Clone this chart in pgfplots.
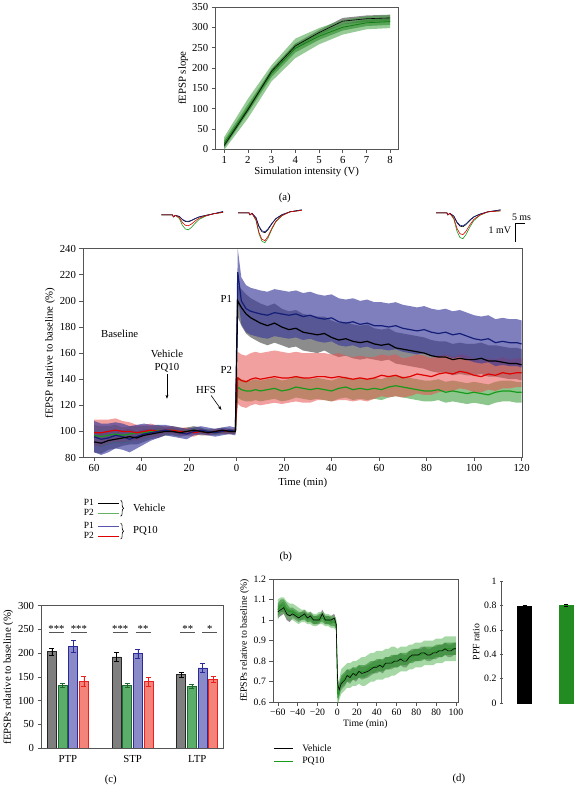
\documentclass[border=0pt]{standalone}
\usepackage{fontspec}
\setmainfont{Liberation Serif}
\usepackage{pgfplots}
\pgfplotsset{compat=1.18}
\usepackage{pgfplotstable}
\usepgfplotslibrary{fillbetween}
\usetikzlibrary{arrows.meta,decorations.pathreplacing}

\definecolor{axgray}{HTML}{555555}
\definecolor{bline}{HTML}{141E78}
\definecolor{bband}{HTML}{3A3A9A}
\definecolor{kband}{HTML}{404040}
\definecolor{rline}{HTML}{E00000}
\definecolor{rband}{HTML}{E85050}
\definecolor{gline}{HTML}{1A9A1A}
\definecolor{gband}{HTML}{40A040}
\definecolor{gdark}{HTML}{2E8B2E}
\definecolor{glight}{HTML}{5CB85C}
\definecolor{cgray}{HTML}{7F7F7F}
\definecolor{cgreen}{HTML}{5AAE6A}
\definecolor{cgreenE}{HTML}{1F6B2F}
\definecolor{cblue}{HTML}{8A8AC8}
\definecolor{cblueE}{HTML}{2A2A9A}
\definecolor{cred}{HTML}{F4847A}
\definecolor{credE}{HTML}{E82020}
\definecolor{ppfgreen}{HTML}{228B22}

% Panel (a)
\pgfplotstableread{
x k ke g ge1 ge2
1 9 6 14 8 16
2 97 6 100 10 24
3 192 6 187 9 20
4 254 6 248 10 24
5 287 6 278 9 20
6 315 8 300 8 18
7 321 8 311 8 16
8 323 8 314 8 16
}\dataA

% Panel (b): x, black(P1 veh), green(P2 veh), blue(P1 PQ10), red(P2 PQ10)
\pgfplotstableread{
x k ke g ge b be r re
-60 92 8 97 8 96 12 99 10
-57 91 8 96 8 94 12 99 10
-54 93 7 97 7 95 11 100 9
-51 94 7 98 7 97 10 101 9
-48 95 6 97 6 96 10 100 8
-45 96 6 98 6 94 10 100 7
-42 95 5 99 5 96 9 99 6
-39 97 5 99 5 98 8 100 5
-36 98 4 100 4 99 6 101 5
-33 99 4 101 4 100 5 100 4
-30 100 3 100 3 101 4 101 3
-27 100 3 101 3 100 4 101 3
-24 99 3 100 3 99 4 100 3
-21 100 3 100 2 98 4 100 3
-18 101 3 101 2 100 3 99 3
-15 100 3 100 2 101 3 100 2
-12 99 2 100 2 100 3 99 2
-9 100 2 99 2 99 3 100 2
-6 101 2 100 2 100 3 100 2
-3 100 2 100 2 101 3 100 2
-0.5 100 2 100 2 100 3 100 2
0.5 200 12 134 8 222 18 141 20
2 195 14 132 8 200 18 139 20
4 190 15 131 8 194 18 138 20
6 187 15 131 8 192 18 140 20
8 185 15 132 8 191 18 141 20
10 183 15 131 8 190 18 140 20
13 181 15 132 8 189 18 141 20
16 183 15 133 8 191 18 142 20
19 180 14 131 8 190 18 141 20
22 178 14 132 8 189 18 141 19
25 179 14 134 8 190 18 142 19
28 176 14 133 8 188 18 141 19
31 175 14 132 8 189 18 141 19
34 174 14 133 8 187 18 142 18
37 175 13 132 8 186 18 142 18
40 172 13 131 8 187 18 141 18
43 170 13 133 8 184 18 142 18
46 171 13 134 8 183 18 141 17
49 169 13 132 8 184 18 140 17
52 168 13 133 8 182 18 141 17
55 169 13 132 8 183 18 140 17
58 167 12 133 8 181 18 141 16
61 166 12 132 8 181 18 143 16
64 167 12 134 8 180 18 142 16
67 164 12 135 8 181 18 143 16
70 163 12 134 8 179 18 141 15
73 162 12 133 8 178 18 142 15
76 161 12 132 8 177 18 144 15
79 160 12 131 8 178 18 143 15
82 158 12 131 8 176 18 142 14
85 157 12 132 8 175 18 144 14
88 157 12 130 8 176 18 145 14
91 155 12 131 8 174 18 144 13
94 156 12 130 8 175 18 146 13
97 155 12 129 8 173 18 145 13
100 155 12 130 8 171 18 143 13
103 156 12 129 8 170 18 142 12
106 154 12 128 8 171 18 144 12
109 154 12 130 8 168 18 143 12
112 153 12 131 8 169 18 145 12
115 152 12 131 8 168 18 144 11
118 152 12 130 8 168 18 145 11
120 151 12 130 8 167 18 145 11
}\dataB

% Panel (d)
\pgfplotstableread{
x k ke g ge1 ge2
-60 1.04 .03 1.05 .03 .05
-57 1.05 .03 1.07 .03 .04
-54 1.06 .03 1.07 .03 .04
-51 1.03 .03 1.05 .03 .04
-48 1.02 .03 1.04 .02 .04
-45 1.03 .02 1.04 .02 .04
-42 1.02 .02 1.03 .02 .04
-39 1.01 .02 1.02 .02 .04
-36 1.02 .02 1.02 .02 .03
-33 1.03 .02 1.02 .02 .03
-30 1.01 .02 1.01 .02 .03
-27 1.02 .02 1.01 .02 .03
-24 1.00 .02 1.00 .02 .03
-21 1.00 .02 1.00 .02 .03
-18 1.00 .02 1.01 .02 .03
-15 1.03 .02 1.01 .02 .03
-12 1.00 .02 1.00 .02 .03
-9 1.00 .02 1.00 .02 .03
-6 1.00 .02 0.99 .02 .03
-3 1.01 .02 0.99 .02 .03
-1 0.98 .02 0.98 .02 .03
0.5 0.69 .03 0.62 .03 .03
2 0.66 .03 0.66 .03 .05
4 0.69 .03 0.70 .03 .06
6 0.70 .03 0.71 .03 .06
8 0.71 .03 0.72 .03 .06
10 0.73 .03 0.73 .03 .06
13 0.72 .03 0.73 .03 .06
16 0.74 .03 0.74 .03 .06
19 0.73 .03 0.74 .03 .06
22 0.75 .03 0.75 .03 .06
25 0.74 .03 0.75 .03 .07
28 0.745 .03 0.75 .03 .07
31 0.75 .03 0.76 .03 .07
34 0.76 .03 0.77 .03 .07
37 0.77 .03 0.77 .03 .07
40 0.77 .03 0.78 .03 .07
43 0.78 .03 0.78 .03 .07
46 0.77 .03 0.78 .03 .07
49 0.79 .03 0.79 .03 .07
52 0.79 .03 0.79 .03 .07
55 0.79 .03 0.80 .03 .07
58 0.80 .03 0.80 .03 .07
61 0.80 .03 0.80 .03 .06
64 0.81 .03 0.81 .03 .06
67 0.80 .03 0.81 .03 .06
70 0.80 .03 0.81 .03 .06
73 0.82 .03 0.82 .03 .06
76 0.83 .03 0.82 .03 .06
79 0.83 .03 0.83 .03 .06
82 0.83 .03 0.83 .03 .06
85 0.84 .03 0.83 .03 .06
88 0.84 .03 0.84 .03 .06
91 0.83 .03 0.84 .03 .06
94 0.83 .03 0.84 .03 .06
97 0.84 .03 0.84 .03 .06
100 0.84 .03 0.85 .03 .06
103 0.85 .03 0.85 .03 .06
106 0.85 .03 0.85 .03 .06
109 0.86 .03 0.86 .03 .06
112 0.85 .03 0.86 .03 .06
115 0.85 .03 0.86 .03 .06
118 0.86 .03 0.86 .03 .06
120 0.86 .03 0.86 .03 .06
}\dataD

\pgfplotsset{
  every axis/.append style={
    scale only axis,
    anchor=north west,
    tick align=outside,
    tick pos=left,
    axis line style={axgray, line width=0.7pt},
    every tick/.style={axgray, line width=0.6pt},
    major tick length=3.5pt,
    /pgf/number format/assume math mode=true,
    tick label style={font=\fontsize{10.8}{12}\selectfont},
    label style={font=\fontsize{10.8}{12}\selectfont},
  },
}

\begin{document}
\begin{tikzpicture}[x=1pt,y=1pt,font=\fontsize{10.8}{12}\selectfont]

% ---------------- Panel (a)
\begin{axis}[at={(215pt,-4pt)}, width=184pt, height=143pt,
  xmin=0.62, xmax=8.34, ymin=0, ymax=350,
  xtick={1,...,8}, ytick={0,50,...,350},
  xlabel={Simulation intensity (V)}, ylabel={fEPSP slope},
  xlabel style={yshift=3pt}, ylabel style={yshift=-3pt}]
\addplot[name path=aKU, draw=none, forget plot] table[x=x, y expr=\thisrow{k}+\thisrow{ke}] {\dataA};
\addplot[name path=aKL, draw=none, forget plot] table[x=x, y expr=\thisrow{k}-\thisrow{ke}] {\dataA};
\addplot[kband, opacity=0.6, draw=none] fill between[of=aKU and aKL];
\addplot[name path=aG2U, draw=none, forget plot] table[x=x, y expr=\thisrow{g}+\thisrow{ge2}] {\dataA};
\addplot[name path=aG2L, draw=none, forget plot] table[x=x, y expr=\thisrow{g}-\thisrow{ge2}] {\dataA};
\addplot[gband, opacity=0.55, draw=none] fill between[of=aG2U and aG2L];
\addplot[name path=aG1U, draw=none, forget plot] table[x=x, y expr=\thisrow{g}+\thisrow{ge1}] {\dataA};
\addplot[name path=aG1L, draw=none, forget plot] table[x=x, y expr=\thisrow{g}-\thisrow{ge1}] {\dataA};
\addplot[gdark, opacity=0.6, draw=none] fill between[of=aG1U and aG1L];
\addplot[gline!80!black, line width=0.8pt] table[x=x, y=g] {\dataA};
\addplot[black, line width=0.6pt] table[x=x, y=k] {\dataA};
\end{axis}
\node at (285,-196) {(a)};

% ---------------- Traces above panel (b)
\begin{axis}[at={(150pt,-200pt)}, width=390pt, height=50pt,
  xmin=150, xmax=540, ymin=-250, ymax=-200, axis lines=none, clip=false]
% group 1
\addplot[gline, line width=0.6pt] coordinates {(161,-213)(172,-213)(173,-215)(175,-213.5)(179,-216.75)(182,-223.5)(185,-227.25)(188,-228)(191,-225.75)(195,-221.25)(199,-217.5)(205,-214.5)(213,-212)(223,-210.5)};
\addplot[black, line width=0.6pt] coordinates {(161,-213)(172,-213)(173,-215)(175,-213.5)(179,-214.75)(182,-217.9)(185,-219.65)(188,-220)(191,-218.95)(195,-216.85)(199,-215.1)(205,-213.7)(213,-212)(223,-210)};
\addplot[bline, line width=0.6pt] coordinates {(161,-213)(172,-213)(173,-215)(175,-213.5)(179,-214.6)(182,-217.5)(185,-219.2)(188,-219.5)(191,-218.5)(195,-216.6)(199,-215)(205,-213.65)(213,-212)(223,-209.5)};
\addplot[rline, line width=0.6pt] coordinates {(161,-213)(172,-213)(173,-215)(175,-213.5)(179,-215.75)(182,-220.7)(185,-223.45)(188,-224)(191,-222.35)(195,-219.05)(199,-216.3)(205,-214.1)(213,-212)(223,-210.5)};
% group 2
\addplot[gline, line width=0.6pt] coordinates {(238,-211)(249,-211)(250,-213)(252,-211.5)(256,-218.5)(259,-232)(262,-239.5)(265,-241)(268,-236.5)(272,-227.5)(276,-220)(282,-214)(290,-210)(302,-208.5)};
\addplot[black, line width=0.6pt] coordinates {(238,-211)(249,-211)(250,-213)(252,-211.5)(256,-216)(259,-225)(262,-230)(265,-231)(268,-228)(272,-222)(276,-217)(282,-213)(290,-210)(302,-208)};
\addplot[bline, line width=0.6pt] coordinates {(238,-211)(249,-211)(250,-213)(252,-211.5)(256,-215.75)(259,-224.3)(262,-229.05)(265,-230)(268,-227.15)(272,-221.45)(276,-216.7)(282,-212.9)(290,-210)(302,-208)};
\addplot[rline, line width=0.6pt] coordinates {(238,-211)(249,-211)(250,-213)(252,-211.5)(256,-218)(259,-230.6)(262,-237.6)(265,-239)(268,-234.8)(272,-226.4)(276,-219.4)(282,-213.8)(290,-210)(302,-208.5)};
% group 3
\addplot[gline, line width=0.6pt] coordinates {(437,-211)(448,-211)(449,-213)(451,-211.5)(455,-217.5)(458,-229.2)(461,-235.7)(464,-237)(467,-233.1)(471,-225.3)(475,-218.8)(481,-213.6)(489,-210)(502,-209)};
\addplot[black, line width=0.6pt] coordinates {(437,-211)(448,-211)(449,-213)(451,-211.5)(455,-214.5)(458,-220.8)(461,-224.3)(464,-225)(467,-222.9)(471,-218.7)(475,-215.2)(481,-212.4)(489,-210)(502,-208)};
\addplot[bline, line width=0.6pt] coordinates {(437,-211)(448,-211)(449,-213)(451,-211.5)(455,-214.25)(458,-220.1)(461,-223.35)(464,-224)(467,-222.05)(471,-218.15)(475,-214.9)(481,-212.3)(489,-210)(502,-208)};
\addplot[rline, line width=0.6pt] coordinates {(437,-211)(448,-211)(449,-213)(451,-211.5)(455,-216.5)(458,-226.4)(461,-231.9)(464,-233)(467,-229.7)(471,-223.1)(475,-217.6)(481,-213.2)(489,-210)(502,-209)};
% scale bar
\draw[black, line width=0.6pt] (axis cs:526,-222) -- (axis cs:517,-222) -- (axis cs:517,-240);
\node[font=\fontsize{10}{12}\selectfont] at (axis cs:523,-215) {5 ms};
\node[anchor=east, font=\fontsize{10}{12}\selectfont] at (axis cs:516,-229) {1 mV};
\end{axis}

% ---------------- Panel (b)
\begin{axis}[at={(82pt,-247pt)}, width=442pt, height=210pt,
  xmin=-64.7, xmax=120.4, ymin=80, ymax=240,
  xtick={-60,-40,...,120}, xticklabels={60,40,20,0,20,40,60,80,100,120},
  ytick={80,100,...,240},
  xlabel={Time (min)}, ylabel={fEPSP relative to baseline (\%)},
  xlabel style={yshift=1pt}, ylabel style={yshift=-2pt}]
\addplot[name path=bKU, draw=none, forget plot] table[x=x, y expr=\thisrow{k}+\thisrow{ke}] {\dataB};
\addplot[name path=bKL, draw=none, forget plot] table[x=x, y expr=\thisrow{k}-\thisrow{ke}] {\dataB};
\addplot[kband, opacity=0.6, draw=none] fill between[of=bKU and bKL];
\addplot[name path=bGU, draw=none, forget plot] table[x=x, y expr=\thisrow{g}+\thisrow{ge}] {\dataB};
\addplot[name path=bGL, draw=none, forget plot] table[x=x, y expr=\thisrow{g}-\thisrow{ge}] {\dataB};
\addplot[gband, opacity=0.6, draw=none] fill between[of=bGU and bGL];
\addplot[name path=bRU, draw=none, forget plot] table[x=x, y expr=\thisrow{r}+\thisrow{re}] {\dataB};
\addplot[name path=bRL, draw=none, forget plot] table[x=x, y expr=\thisrow{r}-\thisrow{re}] {\dataB};
\addplot[rband, opacity=0.55, draw=none] fill between[of=bRU and bRL];
\addplot[name path=bBU, draw=none, forget plot] table[x=x, y expr=\thisrow{b}+\thisrow{be}] {\dataB};
\addplot[name path=bBL, draw=none, forget plot] table[x=x, y expr=\thisrow{b}-\thisrow{be}] {\dataB};
\addplot[bband, opacity=0.65, draw=none] fill between[of=bBU and bBL];
\addplot[gline, line width=1.2pt] table[x=x, y=g] {\dataB};
\addplot[rline, line width=1.2pt] table[x=x, y=r] {\dataB};
\addplot[bline, line width=1.2pt] table[x=x, y=b] {\dataB};
\addplot[black, line width=1.2pt] table[x=x, y=k] {\dataB};
\node at (axis cs:-49.2,174.8) {Baseline};
\node at (axis cs:-29.3,159.7) {Vehicle};
\node at (axis cs:-29.3,149) {PQ10};
\draw[-{Stealth[length=4pt]}, line width=0.6pt] (axis cs:-29.3,144) -- (axis cs:-29.3,125);
\node at (axis cs:-12.9,131.7) {HFS};
\draw[-{Stealth[length=4pt]}, line width=0.6pt] (axis cs:-10.7,127.5) -- (axis cs:-6.4,116.5);
\node at (axis cs:-4.3,201.4) {P1};
\node at (axis cs:-4.3,146.8) {P2};
\end{axis}

% legend of (b)
\node[font=\fontsize{9.5}{10}\selectfont] at (88,-502) {P1};
\node[font=\fontsize{9.5}{10}\selectfont] at (88,-512) {P2};
\draw[black, line width=0.8pt] (97,-503) -- (118,-503);
\draw[gband!80!white, line width=0.8pt] (97,-513.5) -- (118,-513.5);
\draw[decorate, decoration={brace, amplitude=3pt}, line width=0.6pt] (120,-500) -- (120,-516);
\node[anchor=west] at (129,-508) {Vehicle};
\node[font=\fontsize{9.5}{10}\selectfont] at (88,-525) {P1};
\node[font=\fontsize{9.5}{10}\selectfont] at (88,-535) {P2};
\draw[cblueE!80!white, line width=0.8pt] (97,-526) -- (118,-526);
\draw[rline, line width=0.8pt] (97,-536.5) -- (118,-536.5);
\draw[decorate, decoration={brace, amplitude=3pt}, line width=0.6pt] (120,-523) -- (120,-539);
\node[anchor=west] at (129,-531) {PQ10};
\node at (286,-557) {(b)};

% ---------------- Panel (c)
\begin{axis}[at={(40pt,-606pt)}, width=183pt, height=143pt,
  xmin=0.585, xmax=3.4, ymin=0, ymax=300,
  ybar=1.7pt, bar width=9pt,
  xtick={1,2,3}, xticklabels={PTP,STP,LTP}, xtick style={draw=none},
  ytick={0,50,...,300},
  ylabel={fEPSPs relative to baseline (\%)}, ylabel style={yshift=-2pt},
  error bars/error bar style={line width=0.7pt},
  error bars/error mark options={rotate=90, mark size=2.5pt, line width=0.7pt}]
\addplot[fill=cgray, draw=black!85, line width=0.7pt,
  error bars/.cd, y dir=both, y explicit, error bar style={black}]
  coordinates {(1,203) +- (0,8) (2,192) +- (0,9) (3,155) +- (0,5)};
\addplot[fill=cgreen, draw=cgreenE, line width=0.7pt,
  error bars/.cd, y dir=both, y explicit, error bar style={cgreenE}]
  coordinates {(1,132) +- (0,4) (2,132) +- (0,4) (3,130) +- (0,4)};
\addplot[fill=cblue, draw=cblueE, line width=0.7pt,
  error bars/.cd, y dir=both, y explicit, error bar style={cblueE}]
  coordinates {(1,214) +- (0,12) (2,199) +- (0,10) (3,169) +- (0,9)};
\addplot[fill=cred, draw=credE, line width=0.7pt,
  error bars/.cd, y dir=both, y explicit, error bar style={credE}]
  coordinates {(1,141) +- (0,10) (2,140) +- (0,10) (3,145) +- (0,6)};
\draw[axgray, line width=0.5pt] (axis cs:0.708,245) -- (axis cs:0.938,245);
\draw[axgray, line width=0.5pt] (axis cs:1.046,245) -- (axis cs:1.292,245);
\draw[axgray, line width=0.5pt] (axis cs:1.692,245) -- (axis cs:1.923,245);
\draw[axgray, line width=0.5pt] (axis cs:2.046,245) -- (axis cs:2.277,245);
\draw[axgray, line width=0.5pt] (axis cs:2.738,245) -- (axis cs:2.969,245);
\draw[axgray, line width=0.5pt] (axis cs:3.077,245) -- (axis cs:3.308,245);
\node[anchor=base] at (axis cs:0.823,243) {***};
\node[anchor=base] at (axis cs:1.169,243) {***};
\node[anchor=base] at (axis cs:1.808,243) {***};
\node[anchor=base] at (axis cs:2.162,243) {**};
\node[anchor=base] at (axis cs:2.854,243) {**};
\node[anchor=base] at (axis cs:3.192,243) {*};
\end{axis}
\node at (110,-781) {(c)};

% ---------------- Panel (d)
\begin{axis}[at={(273pt,-579pt)}, width=186pt, height=124pt,
  xmin=-65, xmax=122, ymin=0.6, ymax=1.2,
  xtick={-60,-40,...,120},
  xticklabels={−60,−40,−20,0,20,40,60,80,80,100},
  ytick={0.6,0.7,...,1.2},
  yticklabel style={/pgf/number format/fixed},
  tick label style={font=\fontsize{9.8}{11}\selectfont},
  label style={font=\fontsize{9.8}{11}\selectfont},
  xlabel={Time (min)}, ylabel={fEPSPs relative to baseline (\%)},
  xlabel style={yshift=3pt}, ylabel style={yshift=-2pt}]
\addplot[name path=dKU, draw=none, forget plot] table[x=x, y expr=\thisrow{k}+\thisrow{ke}] {\dataD};
\addplot[name path=dKL, draw=none, forget plot] table[x=x, y expr=\thisrow{k}-\thisrow{ke}] {\dataD};
\addplot[kband, opacity=0.6, draw=none] fill between[of=dKU and dKL];
\addplot[name path=dG2U, draw=none, forget plot] table[x=x, y expr=\thisrow{g}+\thisrow{ge2}] {\dataD};
\addplot[name path=dG2L, draw=none, forget plot] table[x=x, y expr=\thisrow{g}-\thisrow{ge2}] {\dataD};
\addplot[glight, opacity=0.55, draw=none] fill between[of=dG2U and dG2L];
\addplot[name path=dG1U, draw=none, forget plot] table[x=x, y expr=\thisrow{g}+\thisrow{ge1}] {\dataD};
\addplot[name path=dG1L, draw=none, forget plot] table[x=x, y expr=\thisrow{g}-\thisrow{ge1}] {\dataD};
\addplot[gdark, opacity=0.6, draw=none] fill between[of=dG1U and dG1L];
\addplot[gline, line width=0.7pt] table[x=x, y=g] {\dataD};
\addplot[black, line width=0.6pt] table[x=x, y=k] {\dataD};
\end{axis}
\draw[black, line width=0.7pt] (274,-749) -- (293,-749);
\node[anchor=west, font=\fontsize{9.8}{11}\selectfont] at (299,-749) {Vehicle};
\draw[gline, line width=0.7pt] (274,-762) -- (293,-762);
\node[anchor=west, font=\fontsize{9.8}{11}\selectfont] at (299,-762) {PQ10};
\node at (460,-780) {(d)};

% ---------------- PPF ratio
\begin{axis}[at={(503pt,-581pt)}, width=73pt, height=123pt,
  xmin=0.452, xmax=2.19, ymin=0, ymax=1,
  axis x line=none, axis y line=left,
  y axis line style={-},
  ytick={0,0.2,...,1},
  yticklabel style={/pgf/number format/fixed},
  tick label style={font=\fontsize{9.8}{11}\selectfont},
  label style={font=\fontsize{9.8}{11}\selectfont},
  ylabel={PPF ratio}, ylabel style={yshift=-2pt},
  ybar, bar width=14pt,
  error bars/error bar style={line width=0.6pt},
  error bars/error mark options={rotate=90, mark size=2pt, line width=0.6pt}]
\addplot[fill=black, draw=black, bar shift=0pt,
  error bars/.cd, y dir=both, y explicit]
  coordinates {(1,0.79) +- (0,0.01)};
\addplot[fill=ppfgreen, draw=ppfgreen, bar shift=0pt,
  error bars/.cd, y dir=both, y explicit]
  coordinates {(2,0.80) +- (0,0.005)};
\end{axis}
\path (0,0) rectangle (576,-788);
\end{tikzpicture}
\end{document}
